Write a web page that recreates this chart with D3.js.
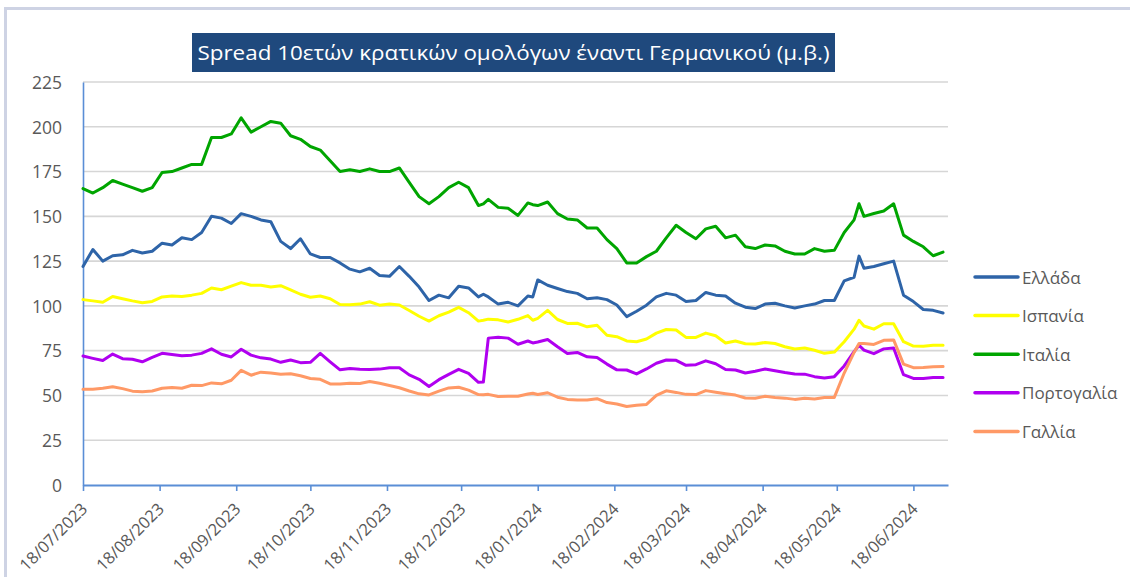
<!DOCTYPE html>
<html><head><meta charset="utf-8">
<script src="https://cdn.jsdelivr.net/npm/d3@7"></script>
<style>
body{margin:0;background:#fff;}
svg{display:block;font-family:"Open Sans","Noto Sans",sans-serif;}
</style>
</head><body>
<svg id="chart" width="1130" height="577"></svg>
<script>
const title = "Spread 10ετών κρατικών ομολόγων έναντι Γερμανικού (μ.β.)";
const seriesNames = ["Ελλάδα", "Ισπανία", "Ιταλία", "Πορτογαλία", "Γαλλία"];
const seriesColors = ["#2e64a8", "#ffff00", "#00a500", "#b000f0", "#ff9966"];
const yTicks = [0, 25, 50, 75, 100, 125, 150, 175, 200, 225];
const xTickLabels = ["18/07/2023","18/08/2023","18/09/2023","18/10/2023","18/11/2023","18/12/2023",
  "18/01/2024","18/02/2024","18/03/2024","18/04/2024","18/05/2024","18/06/2024"];
const xDomain = ["2023-07-18", "2024-07-02"];

const dates = [
  "2023-07-18","2023-07-22","2023-07-26","2023-07-30","2023-08-03","2023-08-07","2023-08-11","2023-08-15","2023-08-19","2023-08-23",
  "2023-08-27","2023-08-31","2023-09-04","2023-09-08","2023-09-12","2023-09-16","2023-09-20","2023-09-24","2023-09-28","2023-10-02",
  "2023-10-06","2023-10-10","2023-10-14","2023-10-18","2023-10-22","2023-10-26","2023-10-30","2023-11-03","2023-11-07","2023-11-11",
  "2023-11-15","2023-11-19","2023-11-23","2023-11-27","2023-12-01","2023-12-05","2023-12-09","2023-12-13","2023-12-17","2023-12-21",
  "2023-12-25","2023-12-27","2023-12-29","2024-01-02","2024-01-06","2024-01-10","2024-01-14","2024-01-16","2024-01-18","2024-01-22",
  "2024-01-26","2024-01-30","2024-02-03","2024-02-07","2024-02-11","2024-02-15","2024-02-19","2024-02-23","2024-02-27","2024-03-02",
  "2024-03-06","2024-03-10","2024-03-14","2024-03-18","2024-03-22","2024-03-26","2024-03-30","2024-04-03","2024-04-07","2024-04-11",
  "2024-04-15","2024-04-19","2024-04-23","2024-04-27","2024-05-01","2024-05-05","2024-05-09","2024-05-13","2024-05-17","2024-05-21",
  "2024-05-25","2024-05-27","2024-05-29","2024-06-02","2024-06-06","2024-06-10","2024-06-14","2024-06-18","2024-06-22","2024-06-26",
  "2024-06-30"
];

const greece = [
  122, 131.5, 125, 128, 128.5, 131, 129.5, 130.5, 135, 134,
  138, 137, 141, 150, 149, 146, 151.5, 150, 148, 147,
  136, 132, 137.5, 129, 127, 127, 124, 120.5, 119, 121,
  117, 116.5, 122, 116.5, 110.5, 103, 106, 104.5, 111, 110,
  105, 106.5, 105, 101, 102, 100, 105.5, 105, 114.5, 111.5,
  109.7, 108, 107, 104, 104.5, 103.5, 100.5, 94, 97, 100.4,
  105, 107, 106, 102.5, 103, 107.5, 106, 105.5, 101.5, 99.3,
  98.5, 101, 101.5, 100, 98.8, 100, 101, 103, 103, 114,
  116, 127.8, 121, 122, 123.5, 125, 106, 102.4, 98, 97.5,
  96
];
const spain = [
  103.5, 102.8, 102, 105.2, 104, 102.8, 101.8, 102.5, 105, 105.5,
  105.2, 106, 107, 110, 109, 111, 113, 111.5, 111.5, 110.5,
  111.3, 109, 106.5, 104.8, 105.5, 104, 100.8, 100.6, 101, 102.3,
  100.4, 101, 100.5, 97.4, 94.2, 91.5, 94.5, 96.5, 99.2, 96.2,
  91.5, 92, 92.6, 92.2, 91, 92.5, 94.6, 92, 93, 97.5,
  92.4, 90.2, 90.3, 88.3, 89.2, 83.6, 82.8, 80.4, 80, 81.5,
  84.8, 86.8, 86.5, 82.4, 82.4, 84.8, 83.3, 79.3, 80.4, 78.9,
  78.7, 79.6, 79, 77.2, 75.9, 76.5, 75.2, 73.5, 74.2, 80,
  87, 92, 88.8, 87, 90, 90, 80, 77.6, 77.5, 78,
  78
];
const italy = [
  165.5, 163, 166, 170, 168, 166, 164, 166, 174.5, 175,
  177, 179, 179, 194, 194, 196, 205, 197, 200, 203,
  202, 195, 193, 189, 187, 181, 175, 176, 175, 176.5,
  175, 175, 177, 169, 161, 157, 161, 166, 169, 166,
  156, 157, 159.5, 155, 154.5, 150.5, 157.5, 156.5, 156, 158,
  151.5, 148.5, 148, 143.5, 143.5, 137, 132, 124, 124, 127.5,
  130.5, 138, 145, 141, 137.5, 143, 144.5, 138, 139.5, 133,
  132, 134, 133.5, 130.5, 129, 129, 132, 130.5, 131, 141,
  148, 157, 150, 151.6, 153, 157, 139.5, 136, 133, 128,
  130
];
const portugal = [
  72, 70.7, 69.5, 73.1, 70.5, 70.2, 68.8, 71.3, 73.5, 72.8,
  72.2, 72.5, 73.5, 76, 73, 71.5, 75.8, 72.5, 71, 70.3,
  68.5, 69.8, 68.3, 68.5, 73.5, 68.8, 64.3, 65, 64.6, 64.5,
  64.7, 65.5, 65.5, 61.5, 59, 55, 58.8, 61.8, 64.6, 62.3,
  57.3, 57.5, 82, 82.5, 82, 78.6, 80.4, 79.3, 79.8, 81.2,
  77.2, 73.4, 74, 71.6, 71.2, 67.5, 64.3, 64.2, 62, 64.8,
  68, 69.8, 69.6, 66.8, 67.2, 69.3, 67.7, 64.5, 64.2, 62.5,
  63.5, 64.8, 63.8, 62.8, 62, 61.9, 60.5, 59.8, 60.5, 66.5,
  74.5, 78, 75.3, 73.3, 76, 76.5, 61.6, 59.5, 59.4, 60,
  60
];
const france = [
  53.4, 53.5, 54, 54.9, 53.8, 52.4, 52.1, 52.5, 54, 54.4,
  54, 55.7, 55.5, 57, 56.5, 58.5, 64, 61.3, 63, 62.5,
  61.8, 62.1, 61, 59.5, 59, 56.4, 56.4, 56.8, 56.7, 57.8,
  56.8, 55.6, 54.3, 52.5, 50.9, 50.3, 52.4, 54.2, 54.6, 53,
  50.5, 50.4, 50.6, 49.4, 49.6, 49.6, 50.8, 51.2, 50.5, 51.5,
  49, 47.8, 47.4, 47.4, 48.2, 46, 45.2, 43.8, 44.5, 45,
  50, 52.6, 51.7, 50.6, 50.5, 52.7, 51.8, 51, 50.2, 48.6,
  48.4, 49.5, 48.9, 48.5, 47.8, 48.4, 48, 48.8, 48.9, 62.5,
  74, 79, 79, 78.5, 80.8, 81, 67.5, 65.5, 65.6, 66,
  66.1
];

const seriesValues = [greece, spain, italy, portugal, france];

const parse = d3.timeParse("%Y-%m-%d");
const parseTick = d3.timeParse("%d/%m/%Y");
const fmtTick = d3.timeFormat("%d/%m/%Y");
const dateObjs = dates.map(parse);

const svg = d3.select("#chart");
const plot = {left: 83, right: 948, top: 82, bottom: 485};
const axisColor = "#5a8ed6";
const textColor = "#595959";

const x = d3.scaleTime().domain(xDomain.map(parse)).range([plot.left, plot.right]);
const y = d3.scaleLinear().domain([0, 225]).range([plot.bottom, plot.top]);

// frame
svg.append("rect").attr("x", 4).attr("y", 7).attr("width", 1126).attr("height", 3).attr("fill", "#ced3e4");
svg.append("rect").attr("x", 4).attr("y", 7).attr("width", 3).attr("height", 570).attr("fill", "#ced3e4");

// gridlines
svg.append("g").selectAll("line").data(yTicks.filter(v => v > 0)).join("line")
  .attr("x1", plot.left).attr("x2", plot.right)
  .attr("y1", d => y(d)).attr("y2", d => y(d))
  .attr("stroke", "#d6d6d6").attr("stroke-width", 1.6);

// y axis
const yAxis = svg.append("g").attr("transform", `translate(${plot.left},0)`)
  .call(d3.axisLeft(y).tickValues(yTicks).tickSize(0).tickSizeOuter(0).tickPadding(21));
yAxis.select(".domain").attr("stroke", axisColor).attr("stroke-width", 1.6);
yAxis.selectAll("text").attr("fill", textColor).attr("font-size", 17.5)
  .attr("font-family", '"Open Sans", sans-serif').attr("dy", "0.36em");

// lines
const line = d3.line().x((d, i) => x(dateObjs[i])).y(d => y(d)).curve(d3.curveLinear);
const lg = svg.append("g");
seriesValues.forEach((vals, k) => {
  lg.append("path").datum(vals)
    .attr("d", line)
    .attr("fill", "none")
    .attr("stroke", seriesColors[k])
    .attr("stroke-width", 3)
    .attr("stroke-linejoin", "round")
    .attr("stroke-linecap", "round");
});

// x axis
const xAxis = svg.append("g").attr("transform", `translate(0,${plot.bottom})`)
  .call(d3.axisBottom(x).tickValues(xTickLabels.map(parseTick)).tickFormat(fmtTick)
    .tickSize(6).tickSizeOuter(0));
xAxis.select(".domain").attr("stroke", axisColor).attr("stroke-width", 2.2);
xAxis.selectAll(".tick line").attr("stroke", axisColor).attr("stroke-width", 1.6);
xAxis.selectAll("text")
  .attr("fill", textColor).attr("font-size", 16.5)
  .attr("font-family", '"Open Sans", sans-serif')
  .attr("x", 0).attr("y", 0).attr("dy", 0)
  .attr("text-anchor", "end")
  .attr("transform", "translate(5,25) rotate(-45)");

// title
svg.append("rect").attr("x", 192).attr("y", 33).attr("width", 643).attr("height", 39).attr("fill", "#1f497d");
svg.append("text").attr("x", 513.5).attr("y", 59.5)
  .attr("text-anchor", "middle").attr("fill", "#ffffff")
  .attr("font-size", 20).attr("font-family", '"Open Sans", sans-serif')
  .attr("textLength", 632).attr("lengthAdjust", "spacingAndGlyphs")
  .text(title);

// legend
const leg = svg.append("g");
seriesNames.forEach((name, k) => {
  const ly = 277 + k * 38.6;
  leg.append("line").attr("x1", 975).attr("x2", 1018).attr("y1", ly).attr("y2", ly)
    .attr("stroke", seriesColors[k]).attr("stroke-width", 3.5).attr("stroke-linecap", "round");
  leg.append("text").attr("x", 1022).attr("y", ly + 6.5)
    .attr("fill", textColor).attr("font-size", 17)
    .attr("font-family", '"Open Sans", sans-serif')
    .text(name);
});
</script>
</body></html>
